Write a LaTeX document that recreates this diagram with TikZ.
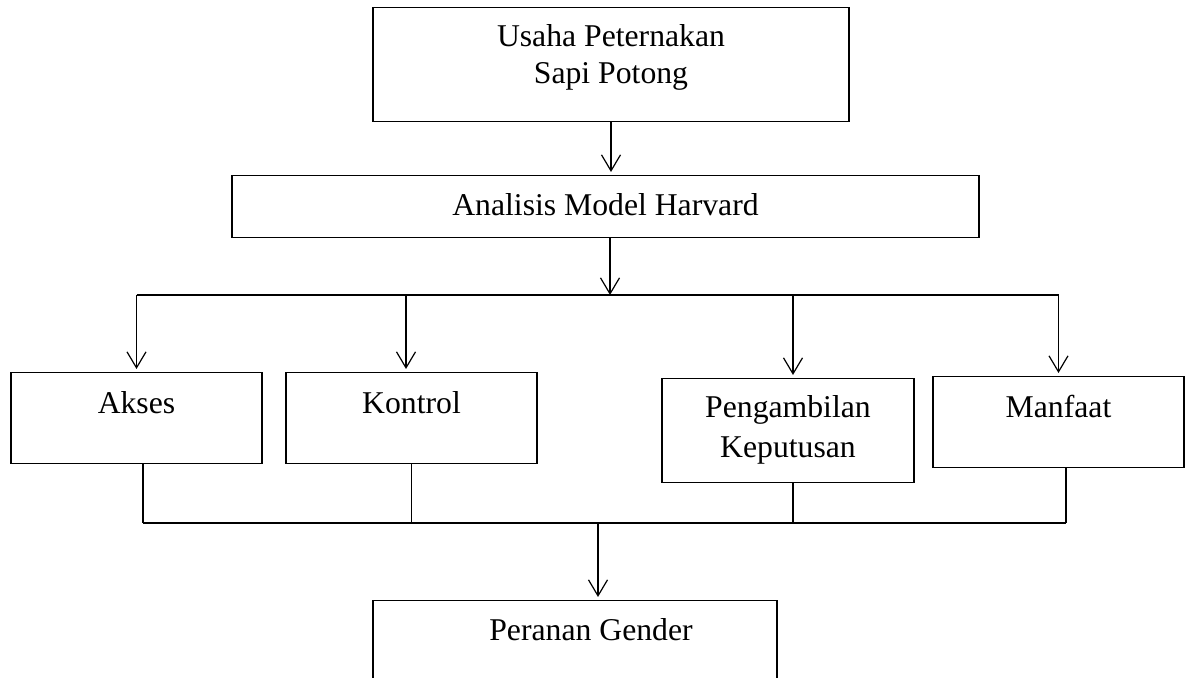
\documentclass[tikz,border=0pt]{standalone}
\usepackage{fontspec}
\setmainfont{Liberation Serif}
\usetikzlibrary{arrows.meta, positioning}
\tikzset{
  box/.style={draw, line width=0.6pt, inner sep=0pt, align=center,
    font=\fontsize{15.85}{18.3}\selectfont},
  flow/.style={-{Straight Barb[length=8pt,width=9.5pt]}, line width=0.6pt, shorten >=1.5pt},
  link/.style={line width=0.6pt}
}

\begin{document}
\begin{tikzpicture}[x=0.5pt, y=-0.5pt]
  \clip (0,0) rectangle (1185,678);

  \node[box, anchor=north, minimum width=238pt, text height=38pt, text depth=19pt] (usaha) at (611,7) {Usaha Peternakan\\Sapi Potong};
  \node[box, anchor=north, minimum width=373.5pt, text height=20pt, text depth=11pt] (harvard) at (605.5,175) {Analisis Model Harvard};

  \node[box, anchor=north, minimum width=125.5pt, text height=20.5pt, text depth=25pt] (akses) at (136.5,372) {Akses};
  \node[box, anchor=north, minimum width=125.5pt, text height=20.5pt, text depth=25pt] (kontrol) at (411.5,372) {Kontrol};
  \node[box, anchor=north, minimum width=126pt, text height=39.5pt, text depth=12.5pt, font=\fontsize{15.85}{20}\selectfont] (keputusan) at (788,378) {Pengambilan\\Keputusan};
  \node[box, anchor=north, minimum width=125.5pt, text height=20.5pt, text depth=25pt] (manfaat) at (1058.5,376) {Manfaat};

  \node[box, anchor=north, minimum width=202pt, text height=20pt, text depth=35pt] (gender) at (575,600) {\hspace*{16pt}Peranan Gender};

  \coordinate (bagi) at (610,295);
  \coordinate (gabung) at (598,523);

  \draw[flow] (usaha.south) -- (usaha.south |- harvard.north);
  \draw[flow, shorten >=0pt] (bagi |- harvard.south) -- (bagi);
  \draw[link] (akses.north |- bagi) -- (manfaat.north |- bagi);
  \draw[flow] (akses.north |- bagi) -- (akses.north);
  \draw[flow] ([xshift=-2.75pt]kontrol.north |- bagi) -- ([xshift=-2.75pt]kontrol.north);
  \draw[flow] ([xshift=2.5pt]keputusan.north |- bagi) -- ([xshift=2.5pt]keputusan.north);
  \draw[flow] (manfaat.north |- bagi) -- (manfaat.north);

  \draw[link] ([xshift=3.25pt]akses.south) -- ([xshift=3.25pt]akses.south |- gabung);
  \draw[link] (kontrol.south) -- (kontrol.south |- gabung);
  \draw[link] ([xshift=2.5pt]keputusan.south) -- ([xshift=2.5pt]keputusan.south |- gabung);
  \draw[link] ([xshift=3.75pt]manfaat.south) -- ([xshift=3.75pt]manfaat.south |- gabung);
  \draw[link] ([xshift=3.25pt]akses.south |- gabung) -- ([xshift=3.75pt]manfaat.south |- gabung);
  \draw[flow] (gabung) -- (gabung |- gender.north);
\end{tikzpicture}
\end{document}
